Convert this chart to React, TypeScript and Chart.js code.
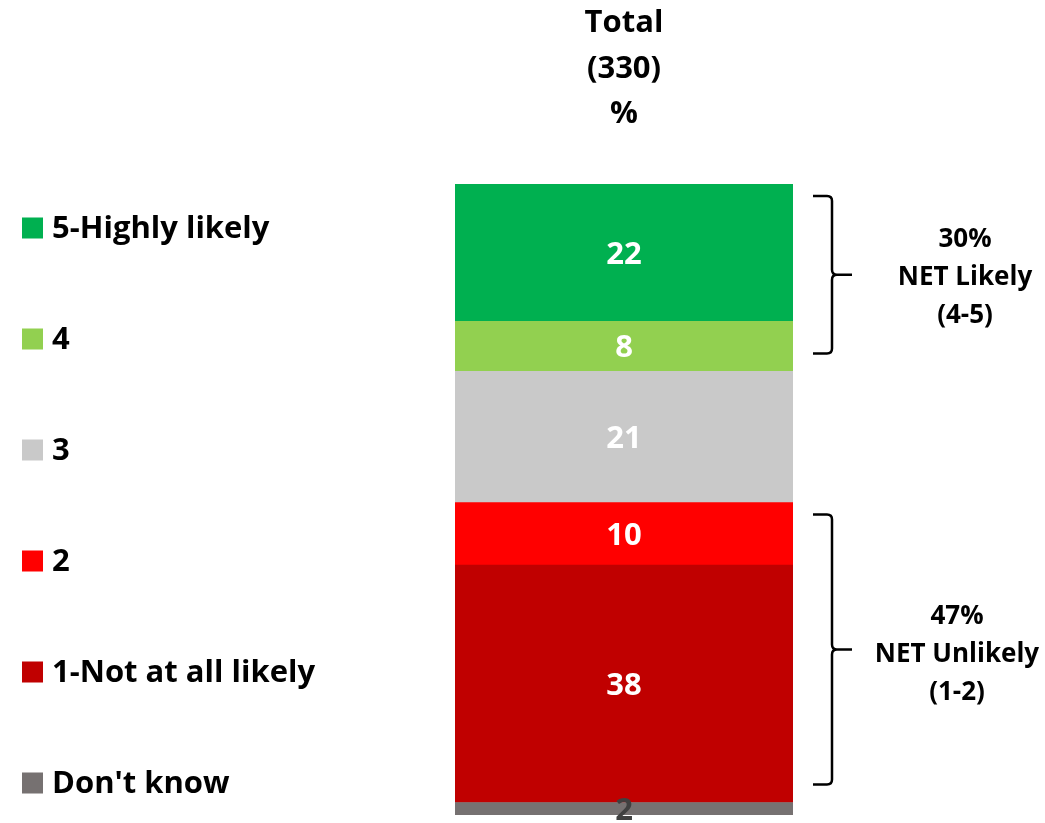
import React, { useEffect, useRef } from "react";
import { Chart, registerables } from "chart.js";

Chart.register(...registerables);

// Data (bottom to top of the stacked bar)
const categories = ["Total"];
const seriesLabels = ["Don't know", "1-Not at all likely", "2", "3", "4", "5-Highly likely"];
const seriesValues = [2, 38, 10, 21, 8, 22];
const seriesColors = ["#767171", "#C00000", "#FF0000", "#C9C9C9", "#92D050", "#00B050"];
const valueTextColors = ["#404040", "#FFFFFF", "#FFFFFF", "#FFFFFF", "#FFFFFF", "#FFFFFF"];
const titleLines = ["Total", "(330)", "%"];
// NET groups: dataset index ranges (inclusive) and label lines
const netRanges = [
  [4, 5],
  [1, 2],
];
const netValues = [30, 47];
const netNames = ["NET Likely", "NET Unlikely"];
const netCodes = ["(4-5)", "(1-2)"];

const FONT = "'Open Sans', Lato, sans-serif";

const overlayPlugin = {
  id: "overlay",
  afterDatasetsDraw(chart: any) {
    const ctx = chart.ctx as CanvasRenderingContext2D;
    const yScale = chart.scales.y;
    ctx.save();
    // value labels
    chart.data.datasets.forEach((ds: any, i: number) => {
      const meta = chart.getDatasetMeta(i);
      const el = meta.data[0] as any;
      if (!el) return;
      const cy = (el.y + el.base) / 2;
      ctx.font = `bold 31px ${FONT}`;
      ctx.fillStyle = valueTextColors[i];
      ctx.textAlign = "center";
      ctx.textBaseline = "middle";
      ctx.fillText(String(ds.data[0]), el.x, cy + 2);
    });

    // title
    const first = chart.getDatasetMeta(0).data[0] as any;
    const cx = first.x;
    ctx.fillStyle = "#000";
    ctx.font = `bold 31px ${FONT}`;
    ctx.textAlign = "center";
    ctx.textBaseline = "alphabetic";
    const titleBase = [32, 78, 123];
    titleLines.forEach((t, i) => ctx.fillText(t, cx, titleBase[i]));

    // legend (top to bottom = reversed series)
    const legendTop = 228;
    const legendGap = 111;
    const order = seriesLabels.map((_, i) => i).reverse();
    order.forEach((di, k) => {
      const y = legendTop + k * legendGap;
      ctx.fillStyle = seriesColors[di];
      ctx.fillRect(22, y - 10.5, 21, 21);
      ctx.fillStyle = "#000";
      ctx.font = `bold 31px ${FONT}`;
      ctx.textAlign = "left";
      ctx.textBaseline = "middle";
      ctx.fillText(seriesLabels[di], 52, y + 1);
    });

    // brackets
    const cumulative = (idx: number) => {
      let s = 0;
      for (let i = 0; i <= idx; i++) s += seriesValues[i];
      return s;
    };
    const textX = [965, 957];
    const textShift = [3, 5];
    netRanges.forEach(([lo, hi], n) => {
      const topVal = cumulative(hi);
      const botVal = cumulative(lo - 1);
      const yTop = yScale.getPixelForValue(topVal) + 12;
      const yBot = yScale.getPixelForValue(botVal) - 18;
      const yMid = (yTop + yBot) / 2;
      const x0 = 813;
      const xv = 832;
      const xt = 852;
      const r = 5;
      ctx.strokeStyle = "#000";
      ctx.lineWidth = 2.5;
      ctx.lineJoin = "round";
      ctx.beginPath();
      ctx.moveTo(x0, yTop);
      ctx.lineTo(xv - r, yTop);
      ctx.quadraticCurveTo(xv, yTop, xv, yTop + r);
      ctx.lineTo(xv, yMid - r);
      ctx.quadraticCurveTo(xv, yMid, xv + r, yMid);
      ctx.lineTo(xt, yMid);
      ctx.moveTo(xv + r, yMid);
      ctx.quadraticCurveTo(xv, yMid, xv, yMid + r);
      ctx.lineTo(xv, yBot - r);
      ctx.quadraticCurveTo(xv, yBot, xv - r, yBot);
      ctx.lineTo(x0, yBot);
      ctx.stroke();

      ctx.fillStyle = "#000";
      ctx.font = `bold 26px ${FONT}`;
      ctx.textAlign = "center";
      ctx.textBaseline = "middle";
      const lines = [`${netValues[n]}%`, netNames[n], netCodes[n]];
      const gap = 38;
      lines.forEach((t, i) => ctx.fillText(t, textX[n], yMid + textShift[n] + (i - 1) * gap));
    });
    ctx.restore();
  },
};

export default function App() {
  const canvasRef = useRef<HTMLCanvasElement | null>(null);

  useEffect(() => {
    let chart: Chart | null = null;
    let cancelled = false;
    const build = () => {
      if (cancelled || !canvasRef.current) return;
      chart = new Chart(canvasRef.current, {
        type: "bar",
        data: {
          labels: categories,
          datasets: seriesLabels.map((label, i) => ({
            label,
            data: [seriesValues[i]],
            backgroundColor: seriesColors[i],
            borderWidth: 0,
            barPercentage: 1,
            categoryPercentage: 1,
          })),
        },
        options: {
          responsive: false,
          animation: false,
          layout: { padding: { left: 455, right: 252, top: 184, bottom: 8 } },
          plugins: {
            legend: { display: false },
            tooltip: { enabled: false },
            title: { display: false },
          },
          scales: {
            x: { stacked: true, display: false },
            y: { stacked: true, display: false, min: 0, max: 101 },
          },
        },
        plugins: [overlayPlugin],
      });
    };
    const fonts = (document as any).fonts;
    if (fonts && fonts.load) {
      Promise.all([fonts.load(`bold 30px 'Open Sans'`)]).then(build, build);
    } else {
      build();
    }
    return () => {
      cancelled = true;
      if (chart) chart.destroy();
    };
  }, []);

  return (
    <div style={{ position: "absolute", left: 0, top: 0, width: 1045, height: 823, background: "#fff" }}>
      <canvas ref={canvasRef} width={1045} height={823} style={{ display: "block" }} />
    </div>
  );
}
